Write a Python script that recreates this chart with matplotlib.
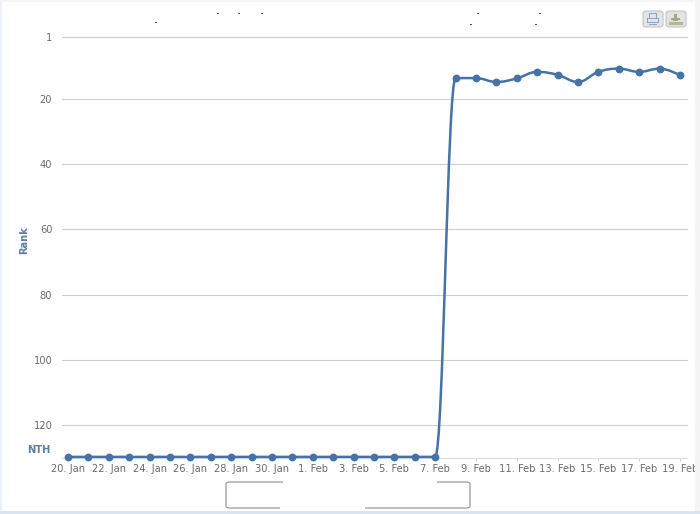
import matplotlib
matplotlib.use('Agg')
import matplotlib.pyplot as plt
from matplotlib.patches import FancyBboxPatch, PathPatch, Rectangle
from matplotlib.path import Path

plt.rcParams['font.family'] = ['DejaVu Sans']

W, H = 700, 514
NTH = 129.8

# one point per day, 20 Jan .. 19 Feb
dates = ['20. Jan', '21. Jan', '22. Jan', '23. Jan', '24. Jan', '25. Jan', '26. Jan', '27. Jan',
         '28. Jan', '29. Jan', '30. Jan', '31. Jan', '1. Feb', '2. Feb', '3. Feb', '4. Feb',
         '5. Feb', '6. Feb', '7. Feb', '8. Feb', '9. Feb', '10. Feb', '11. Feb', '12. Feb',
         '13. Feb', '14. Feb', '15. Feb', '16. Feb', '17. Feb', '18. Feb', '19. Feb']
ranks = [NTH] * 19 + [13.6, 13.6, 14.8, 13.7, 11.7, 12.6, 14.8, 11.7, 10.7, 11.7, 10.7, 12.7]
ytick_values = [1, 20, 40, 60, 80, 100, 120]


def spline_path(xs, ys, smoothing=1.5):
    # same control points as a highcharts spline, overshoot clamped
    denom = smoothing + 1
    left, right = {}, {}
    for i in range(1, len(xs) - 1):
        x, y = xs[i], ys[i]
        lx, ly = xs[i - 1], ys[i - 1]
        nx, ny = xs[i + 1], ys[i + 1]
        lcx, lcy = (smoothing * x + lx) / denom, (smoothing * y + ly) / denom
        rcx, rcy = (smoothing * x + nx) / denom, (smoothing * y + ny) / denom
        cor = (rcy - lcy) * (rcx - x) / (rcx - lcx) + y - rcy
        lcy += cor
        rcy += cor
        if lcy > ly and lcy > y:
            lcy = max(ly, y)
            rcy = 2 * y - lcy
        elif lcy < ly and lcy < y:
            lcy = min(ly, y)
            rcy = 2 * y - lcy
        if rcy > ny and rcy > y:
            rcy = max(ny, y)
            lcy = 2 * y - rcy
        elif rcy < ny and rcy < y:
            rcy = min(ny, y)
            lcy = 2 * y - rcy
        left[i] = (lcx, lcy)
        right[i] = (rcx, rcy)

    verts = [(xs[0], ys[0])]
    codes = [Path.MOVETO]
    for i in range(1, len(xs)):
        verts += [right.get(i - 1, (xs[i - 1], ys[i - 1])), left.get(i, (xs[i], ys[i])), (xs[i], ys[i])]
        codes += [Path.CURVE4] * 3
    return Path(verts, codes)


def px_rect(x, y, w, h, c):
    fig.patches.append(Rectangle((x / W, 1 - (y + h) / H), w / W, h / H, transform=fig.transFigure,
                                 fc=c, ec='none'))


def px_box(x, y, w, h, **kw):
    p = FancyBboxPatch((x / W, 1 - (y + h) / H), w / W, h / H, transform=fig.transFigure,
                       boxstyle='round,pad=0,rounding_size=0.005', mutation_aspect=H / W, **kw)
    fig.patches.append(p)


fig = plt.figure(figsize=(W / 100, H / 100), dpi=100, facecolor='white')

# page edges around the chart container
px_rect(0, 0, 2, H, '#eef2f7')
px_rect(695, 0, 5, H, '#f4f4f4')
px_rect(0, 0, W, 2, '#f4f4f4')
px_rect(0, 511, W, 3, '#d9e4f0')

ax = fig.add_axes([62 / W, (H - 458) / H, 625 / W, 421 / H])
xs = list(range(len(dates)))
ax.set_xlim((62 - 68) / 20.4, (687 - 68) / 20.4)
ax.set_ylim(1 + (458 - 37) / 3.26, 1)

for v in ytick_values:
    ax.axhline(v, color='#cfcfcf', lw=0.8, zorder=1, clip_on=False)

ax.add_patch(PathPatch(spline_path(xs, ranks), fc='none', ec='#4572a7', lw=1.8, zorder=3, clip_on=False))
ax.plot(xs, ranks, ls='none', marker='o', ms=4.6, color='#4572a7', mec='#4572a7', zorder=4, clip_on=False)

for side in ['top', 'left', 'right']:
    ax.spines[side].set_visible(False)
ax.spines['bottom'].set_color('#dcdcdc')
ax.spines['bottom'].set_linewidth(0.8)

ax.set_xticks(xs[::2])
ax.set_xticklabels(dates[::2], fontsize=7.1, color='#6a6a6a')
ax.tick_params(axis='x', length=2, width=0.7, color='#d0d0d0', pad=2, direction='out')

ax.set_yticks(ytick_values)
ax.set_yticklabels([str(v) for v in ytick_values], fontsize=7.1, color='#6a6a6a')
ax.tick_params(axis='y', length=0, pad=7)

fig.text(50 / W, 1 - 450 / H, 'NTH', fontsize=7.1, fontweight='bold', color='#5b7fa6', ha='right', va='center')
fig.text(24 / W, 1 - 240 / H, 'Rank', rotation=90, fontsize=7.1, fontweight='bold', color='#5b7fa6',
         ha='center', va='center')

# export buttons
px_box(643, 11, 20, 16, fc='#e2e4e6', ec='#c4c4c4', lw=0.8)
px_box(666, 11, 20, 16, fc='#e2e4e2', ec='#c4c4c4', lw=0.8)
for x, y, w, h, c in [(649, 13, 8, 1, '#8fa5bf'), (649, 13, 1, 5, '#8fa5bf'), (656, 13, 1, 5, '#8fa5bf'),
                      (647, 18, 12, 1, '#8fa5bf'), (647, 19, 1, 4, '#8fa5bf'), (658, 19, 1, 4, '#8fa5bf'),
                      (647, 22, 12, 1, '#8fa5bf'), (649, 24, 8, 1, '#8fa5bf'),
                      (674, 14, 3, 5, '#a3a77a'), (671, 18, 9, 2, '#a3a77a'), (673, 20, 5, 1, '#a3a77a'),
                      (669, 22, 14, 3, '#b5b88f')]:
    px_rect(x, y, w, h, c)

# specks left of the blanked out title
for x, y in [(155, 22), (217, 13), (238, 13), (261, 13), (470, 24), (535, 24), (477, 13), (539, 13)]:
    px_rect(x, y, 2, 1, '#555555')

# legend box, its text is blanked out in the source
px_box(226, 482, 244, 26, fc='white', ec='#8c8c8c', lw=0.8)
px_rect(283, 479, 154, 8, 'white')
px_rect(280, 503, 85, 8, 'white')

fig.savefig('out.png', dpi=100)
